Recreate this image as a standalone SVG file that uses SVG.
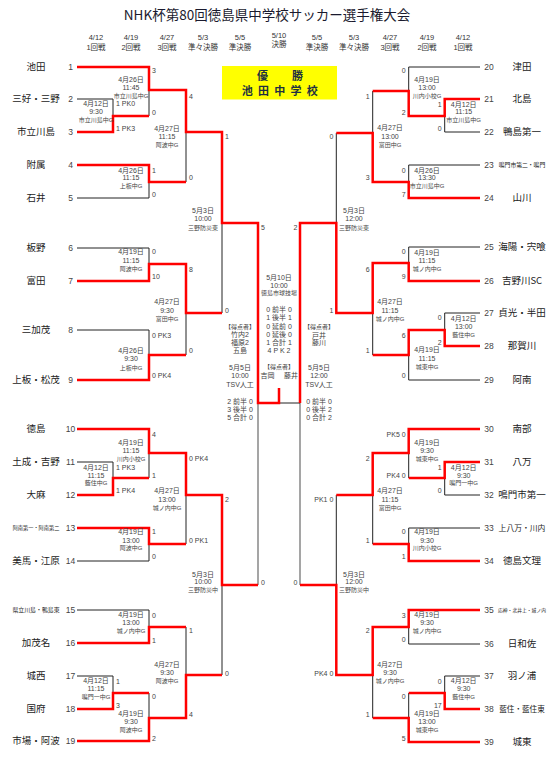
<svg xmlns="http://www.w3.org/2000/svg" width="557" height="761" viewBox="0 0 557 761">
<style>
.bg{fill:#fff}
.r{stroke:#ff0000;stroke-width:2.5;fill:none;stroke-linejoin:miter}
.b{stroke:#222;stroke-width:1;fill:none}
.g{stroke:#888;stroke-width:1.5;fill:none}
.nm{font-family:"Noto Sans CJK JP",sans-serif;font-size:9.5px;fill:#222;text-anchor:middle}
.no{font-family:"Liberation Sans",sans-serif;font-size:8.5px;fill:#444;text-anchor:middle}
.sc{font-family:"Liberation Sans","Noto Sans CJK JP",sans-serif;font-size:7px;fill:#444}
.sl{text-anchor:start}
.sr{text-anchor:end}
.lb text{font-family:"Liberation Sans","Noto Sans CJK JP",sans-serif;font-size:7px;fill:#444;text-anchor:middle}
.lb text.v{font-size:6px}
.hd text{font-family:"Liberation Sans","Noto Sans CJK JP",sans-serif;font-size:7.5px;fill:#333;text-anchor:middle}
.win{font-family:"Liberation Sans","Noto Sans CJK JP",sans-serif;font-size:11px;font-weight:bold;fill:#203040;text-anchor:middle}
</style>
<rect class="bg" x="0" y="0" width="557" height="761"/>

<g id="title">
<text x="267" y="20" style="font-family:'Noto Sans CJK JP',sans-serif;font-size:13.5px;fill:#1a1a2e;text-anchor:middle">NHK杯第80回徳島県中学校サッカー選手権大会</text>
</g>
<g id="header" class="hd">
<text x="96" y="40">4/12</text><text x="96" y="50">1回戦</text>
<text x="131" y="40">4/19</text><text x="131" y="50">2回戦</text>
<text x="167" y="40">4/27</text><text x="167" y="50">3回戦</text>
<text x="203" y="40">5/3</text><text x="203" y="50">準々決勝</text>
<text x="240" y="40">5/5</text><text x="240" y="50">準決勝</text>
<text x="279" y="38">5/10</text><text x="279" y="47">決勝</text>
<text x="317" y="40">5/5</text><text x="317" y="50">準決勝</text>
<text x="354" y="40">5/3</text><text x="354" y="50">準々決勝</text>
<text x="390" y="40">4/27</text><text x="390" y="50">3回戦</text>
<text x="427" y="40">4/19</text><text x="427" y="50">2回戦</text>
<text x="463" y="40">4/12</text><text x="463" y="50">1回戦</text>
</g>

<g id="champion">
<rect x="222" y="66" width="115" height="33.5" fill="#ffff00"/>
<text class="win" x="262.5 297.5" y="79.7">優勝</text>
<text class="win" x="247.3 263.5 279.8 296 312.3" y="95">池田中学校</text>
</g>

<g id="connectors">
<!-- left black -->
<path class="b" d="M77,99H113V116M77,198H149V182M149,116V90M186,132V182M77,248H149V264M77,330H149V355M186,313V355M222,223V313M77,462H113V478M149,453V478M77,561H149V544M186,495V544M77,610H149V627M77,676H113V693M149,693V718M186,627V675M222,585V675"/>
<path class="g" d="M258,403V585M300,403V585"/>
<!-- right black -->
<path class="b" d="M480,67H408.7V91M480,132H444.7V116M480,165H408.7V182M372.7,91V133M336.3,133V223M480,247H408.7V263M480,313H444.7V330M480,380H408.7V355M372.7,355V313M408.7,453V478M480,495H444.7V478M480,528H408.7V544M372.7,544V495M336.3,495V585M480,644H408.7V627M480,676H444.7V693M408.7,693V718M372.7,718V675"/>
<path class="b" d="M279,403H300"/>
<!-- left red -->
<path class="r" d="M77,132H113V116H149"/>
<path class="r" d="M77,67H149V90H186V132H222V223H258V403H279V388"/>
<path class="r" d="M77,165H149V182H186"/>
<path class="r" d="M77,281H149V264H186V313H222"/>
<path class="r" d="M77,380H149V355H186"/>
<path class="r" d="M77,495H113V478H149"/>
<path class="r" d="M77,429H149V453H186V495H222V585H258"/>
<path class="r" d="M77,528H149V544H186"/>
<path class="r" d="M77,643H149V627H186"/>
<path class="r" d="M77,709H113V693H149"/>
<path class="r" d="M77,741H149V718H186V675H222"/>
<!-- right red -->
<path class="r" d="M480,99H444.7V116H408.7V91H372.7"/>
<path class="r" d="M480,198H408.7V182H372.7V133H336.3"/>
<path class="r" d="M480,281H408.7V263H372.7V313H336.3V223H300V403"/>
<path class="r" d="M480,346H444.7V330H408.7V355H372.7"/>
<path class="r" d="M480,429H408.7V453H372.7V495H336.3"/>
<path class="r" d="M480,462H444.7V478H408.7"/>
<path class="r" d="M480,561H408.7V544H372.7"/>
<path class="r" d="M480,610H408.7V627H372.7V675H336.3V585H300"/>
<path class="r" d="M480,709H444.7V693H408.7"/>
<path class="r" d="M480,742H408.7V718H372.7"/>
</g>

<g id="teams-left">
<g id="t1"><text class="nm" x="36" y="70.4">池田</text><text class="no" x="70.5" y="70">1</text></g>
<g id="t2"><text class="nm" x="36" y="102.4">三好・三野</text><text class="no" x="70.5" y="102">2</text></g>
<g id="t3"><text class="nm" x="36" y="135.4">市立川島</text><text class="no" x="70.5" y="135">3</text></g>
<g id="t4"><text class="nm" x="36" y="168.4">附属</text><text class="no" x="70.5" y="168">4</text></g>
<g id="t5"><text class="nm" x="36" y="201.4">石井</text><text class="no" x="70.5" y="201">5</text></g>
<g id="t6"><text class="nm" x="36" y="251.4">板野</text><text class="no" x="70.5" y="251">6</text></g>
<g id="t7"><text class="nm" x="36" y="284.4">富田</text><text class="no" x="70.5" y="284">7</text></g>
<g id="t8"><text class="nm" x="36" y="333.4">三加茂</text><text class="no" x="70.5" y="333">8</text></g>
<g id="t9"><text class="nm" x="36" y="383.4">上板・松茂</text><text class="no" x="70.5" y="383">9</text></g>
<g id="t10"><text class="nm" x="36" y="432.4">徳島</text><text class="no" x="70.5" y="432">10</text></g>
<g id="t11"><text class="nm" x="36" y="465.4">土成・吉野</text><text class="no" x="70.5" y="465">11</text></g>
<g id="t12"><text class="nm" x="36" y="498.4">大麻</text><text class="no" x="70.5" y="498">12</text></g>
<g id="t13"><text class="nm" x="36" y="530" style="font-size:5.2px">阿南第一・阿南第二</text><text class="no" x="70.5" y="531">13</text></g>
<g id="t14"><text class="nm" x="36" y="564.4">美馬・江原</text><text class="no" x="70.5" y="564">14</text></g>
<g id="t15"><text class="nm" x="36" y="612.1" style="font-size:5.9px">県立川島・鴨島東</text><text class="no" x="70.5" y="613">15</text></g>
<g id="t16"><text class="nm" x="36" y="646.4">加茂名</text><text class="no" x="70.5" y="646">16</text></g>
<g id="t17"><text class="nm" x="36" y="679.4">城西</text><text class="no" x="70.5" y="679">17</text></g>
<g id="t18"><text class="nm" x="36" y="712.4">国府</text><text class="no" x="70.5" y="712">18</text></g>
<g id="t19"><text class="nm" x="36" y="744.4">市場・阿波</text><text class="no" x="70.5" y="744">19</text></g>
</g>

<g id="teams-right">
<g id="t20"><text class="nm" x="522" y="70.4">津田</text><text class="no" x="489" y="70">20</text></g>
<g id="t21"><text class="nm" x="522" y="102.4">北島</text><text class="no" x="489" y="102">21</text></g>
<g id="t22"><text class="nm" x="522" y="135.4">鴨島第一</text><text class="no" x="489" y="135">22</text></g>
<g id="t23"><text class="nm" x="522" y="167.1" style="font-size:5.8px">鳴門市第二・鳴門</text><text class="no" x="489" y="168">23</text></g>
<g id="t24"><text class="nm" x="522" y="201.4">山川</text><text class="no" x="489" y="201">24</text></g>
<g id="t25"><text class="nm" x="522" y="250.4">海陽・宍喰</text><text class="no" x="489" y="250">25</text></g>
<g id="t26"><text class="nm" x="522" y="284.4">吉野川SC</text><text class="no" x="489" y="284">26</text></g>
<g id="t27"><text class="nm" x="522" y="316.4">貞光・半田</text><text class="no" x="489" y="316">27</text></g>
<g id="t28"><text class="nm" x="522" y="349.4">那賀川</text><text class="no" x="489" y="349">28</text></g>
<g id="t29"><text class="nm" x="522" y="383.4">阿南</text><text class="no" x="489" y="383">29</text></g>
<g id="t30"><text class="nm" x="522" y="432.4">南部</text><text class="no" x="489" y="432">30</text></g>
<g id="t31"><text class="nm" x="522" y="465.4">八万</text><text class="no" x="489" y="465">31</text></g>
<g id="t32"><text class="nm" x="522" y="498.4">鳴門市第一</text><text class="no" x="489" y="498">32</text></g>
<g id="t33"><text class="nm" x="522" y="530.8" style="font-size:7.8px">上八万・川内</text><text class="no" x="489" y="531">33</text></g>
<g id="t34"><text class="nm" x="522" y="564.4">徳島文理</text><text class="no" x="489" y="564">34</text></g>
<g id="t35"><text class="nm" x="522" y="611.8" style="font-size:4.8px">応神・北井上・城ノ内</text><text class="no" x="489" y="613">35</text></g>
<g id="t36"><text class="nm" x="522" y="647.4">日和佐</text><text class="no" x="489" y="647">36</text></g>
<g id="t37"><text class="nm" x="522" y="679.4">羽ノ浦</text><text class="no" x="489" y="679">37</text></g>
<g id="t38"><text class="nm" x="522" y="711.8" style="font-size:7.6px">藍住・藍住東</text><text class="no" x="489" y="712">38</text></g>
<g id="t39"><text class="nm" x="522" y="745.4">城東</text><text class="no" x="489" y="745">39</text></g>
</g>

<g id="scores-left" class="sc sl">
<text x="116" y="105.9">1 PK0</text><text x="116" y="130.9">1 PK3</text>
<text x="152" y="72.6">3</text><text x="152" y="114.6">0</text>
<text x="152" y="172.6">1</text><text x="152" y="196.6">0</text>
<text x="189" y="98.6">4</text><text x="189" y="180.3">0</text>
<text x="225" y="139.3">1</text><text x="225" y="312.6">0</text>
<text x="261" y="229.9">5</text><text x="261" y="584.6">0</text>
<text x="152" y="254.3">0</text><text x="152" y="279.3">10</text>
<text x="152" y="337.6">0 PK3</text><text x="152" y="378.3">0 PK4</text>
<text x="189" y="271.6">8</text><text x="189" y="352.6">0</text>
<text x="152" y="436.6">4</text><text x="152" y="477.6">1</text>
<text x="116" y="469.9">1 PK3</text><text x="116" y="493.3">1 PK4</text>
<text x="189" y="460.9">0 PK4</text><text x="189" y="543.3">0 PK1</text>
<text x="225" y="501.6">2</text>
<text x="152" y="534.3">1</text><text x="152" y="558.6">0</text>
<text x="152" y="617.6">0</text><text x="152" y="642.6">1</text>
<text x="116" y="683.6">1</text><text x="116" y="707.6">3</text>
<text x="152" y="699.3">0</text><text x="152" y="740.9">2</text>
<text x="189" y="633.3">1</text><text x="189" y="716.6">4</text>
<text x="225" y="675.9">0</text>
</g>

<g id="scores-right" class="sc sr">
<text x="405.7" y="72.6">0</text><text x="405.7" y="114.6">2</text>
<text x="441.7" y="106.6">1</text><text x="441.7" y="130.6">0</text>
<text x="405.7" y="172.6">0</text><text x="405.7" y="196.6">7</text>
<text x="369.7" y="99.3">1</text><text x="369.7" y="180.3">3</text>
<text x="333.3" y="138.6">0</text><text x="297.5" y="229.6">2</text>
<text x="405.7" y="254.3">0</text><text x="405.7" y="279.3">9</text>
<text x="441.7" y="320.3">0</text><text x="441.7" y="344.9">2</text>
<text x="405.7" y="337.6">6</text><text x="405.7" y="378.3">0</text>
<text x="369.7" y="271.6">6</text><text x="369.7" y="353.3">1</text>
<text x="333.3" y="312.6">1</text>
<text x="405.7" y="436.6">PK5 0</text><text x="405.7" y="477.6">PK4 0</text>
<text x="441.7" y="469.9">1</text><text x="441.7" y="493.3">0</text>
<text x="405.7" y="534.3">0</text><text x="405.7" y="559.3">1</text>
<text x="369.7" y="460.9">2</text><text x="369.7" y="543.3">1</text>
<text x="333.3" y="501.6">PK1 0</text><text x="297.5" y="584.6">0</text>
<text x="405.7" y="617.6">3</text><text x="405.7" y="641.9">0</text>
<text x="441.7" y="683.6">0</text><text x="441.7" y="707.6">17</text>
<text x="405.7" y="699.3">0</text><text x="405.7" y="740.9">5</text>
<text x="369.7" y="633.3">2</text><text x="369.7" y="716.6">1</text>
<text x="333.3" y="675.9">PK4 0</text>
</g>

<g id="matches-left">
<g id="mL1a" class="lb"><text x="96" y="106.2">4月12日</text><text x="96" y="114.2">9:30</text><text class="v" x="96" y="121.5">市立川島中G</text></g>
<g id="mL2a" class="lb"><text x="131" y="81.5">4月26日</text><text x="131" y="89.8">11:45</text><text class="v" x="131" y="97.5">市立川島中G</text></g>
<g id="mL2b" class="lb"><text x="131" y="172.5">4月26日</text><text x="131" y="180.2">11:15</text><text class="v" x="131" y="187.9">上板中G</text></g>
<g id="mL3a" class="lb"><text x="167" y="130.8">4月27日</text><text x="167" y="139.2">11:15</text><text class="v" x="167" y="147.2">阿波中G</text></g>
<g id="mLqf1" class="lb"><text x="203" y="213.2">5月3日</text><text x="203" y="220.8">10:00</text><text class="v" x="203" y="229.5">三野防災東</text></g>
<g id="mL2c" class="lb"><text x="131" y="254.2">4月19日</text><text x="131" y="262.5">11:15</text><text class="v" x="131" y="271.2">阿波中G</text></g>
<g id="mL2d" class="lb"><text x="131" y="353.2">4月26日</text><text x="131" y="360.8">9:30</text><text class="v" x="131" y="369.5">上板中G</text></g>
<g id="mL3b" class="lb"><text x="167" y="304.2">4月27日</text><text x="167" y="312.5">9:30</text><text class="v" x="167" y="320.5">富田中G</text></g>
<g id="mL1b" class="lb"><text x="96" y="469.8">4月12日</text><text x="96" y="477.5">11:15</text><text class="v" x="96" y="484.9">藍住中G</text></g>
<g id="mL2e" class="lb"><text x="131" y="444.8">4月19日</text><text x="131" y="452.5">11:15</text><text class="v" x="131" y="460.5">川内小校G</text></g>
<g id="mL2f" class="lb"><text x="131" y="534.2">4月19日</text><text x="131" y="542.5">13:00</text><text class="v" x="131" y="549.9">阿波中G</text></g>
<g id="mL3c" class="lb"><text x="167" y="493.2">4月27日</text><text x="167" y="501.5">13:00</text><text class="v" x="167" y="509.9">城ノ内中G</text></g>
<g id="mLqf2" class="lb"><text x="203" y="576.5">5月3日</text><text x="203" y="584.2">10:00</text><text class="v" x="203" y="591.9">三野防災中</text></g>
<g id="mL2g" class="lb"><text x="131" y="616.8">4月19日</text><text x="131" y="625.2">13:00</text><text class="v" x="131" y="633.2">城ノ内中G</text></g>
<g id="mL1c" class="lb"><text x="96" y="683.2">4月12日</text><text x="96" y="690.8">11:15</text><text class="v" x="96" y="698.9">鳴門一中G</text></g>
<g id="mL2h" class="lb"><text x="131" y="715.8">4月19日</text><text x="131" y="724.2">9:30</text><text class="v" x="131" y="732.2">阿波中G</text></g>
<g id="mL3d" class="lb"><text x="167" y="666.8">4月27日</text><text x="167" y="675.2">9:30</text><text class="v" x="167" y="683.2">阿波中G</text></g>
<g id="mLsf" class="lb">
<text class="v" x="240" y="329">【得点者】</text><text x="240" y="337">竹内2</text><text x="240" y="345.3">福原2</text><text x="240" y="353.3">五島</text>
<text x="240" y="370.2">5月5日</text><text x="240" y="378.2">10:00</text><text x="240" y="386.5">TSV人工</text>
<text x="240" y="403.5">2 前半 0</text><text x="240" y="411.5">3 後半 0</text><text x="240" y="419.5">5 合計 0</text>
</g>
</g>

<g id="matches-right">
<g id="mR2a" class="lb"><text x="427" y="81.5">4月19日</text><text x="427" y="89.8">13:00</text><text class="v" x="427" y="97.9">川内小校G</text></g>
<g id="mR1a" class="lb"><text x="463.7" y="106.8">4月12日</text><text x="463.7" y="114.2">11:15</text><text class="v" x="463.7" y="122.2">市立川島中G</text></g>
<g id="mR2b" class="lb"><text x="427" y="172.5">4月26日</text><text x="427" y="180.2">13:30</text><text class="v" x="427" y="187.9">市立川島中G</text></g>
<g id="mR3a" class="lb"><text x="390" y="130.2">4月27日</text><text x="390" y="139.2">13:00</text><text class="v" x="390" y="147.2">富田中G</text></g>
<g id="mRqf1" class="lb"><text x="354" y="213.2">5月3日</text><text x="354" y="220.8">12:00</text><text class="v" x="354" y="229.5">三野防災東</text></g>
<g id="mR2c" class="lb"><text x="427" y="254.8">4月19日</text><text x="427" y="262.5">11:15</text><text class="v" x="427" y="270.5">城ノ内中G</text></g>
<g id="mR1b" class="lb"><text x="463.7" y="320.8">4月12日</text><text x="463.7" y="329.2">13:00</text><text class="v" x="463.7" y="337.2">藍住中G</text></g>
<g id="mR2d" class="lb"><text x="427" y="351.8">4月19日</text><text x="427" y="360.8">11:15</text><text class="v" x="427" y="368.9">城東中G</text></g>
<g id="mR3b" class="lb"><text x="390" y="304.2">4月27日</text><text x="390" y="312.5">11:15</text><text class="v" x="390" y="320.5">城ノ内中G</text></g>
<g id="mR2e" class="lb"><text x="427" y="444.8">4月19日</text><text x="427" y="452.5">9:30</text><text class="v" x="427" y="460.5">城東中G</text></g>
<g id="mR1c" class="lb"><text x="463.7" y="469.8">4月12日</text><text x="463.7" y="477.5">9:30</text><text class="v" x="463.7" y="484.9">鳴門一中G</text></g>
<g id="mR2f" class="lb"><text x="427" y="534.2">4月19日</text><text x="427" y="542.5">9:30</text><text class="v" x="427" y="549.9">川内小校G</text></g>
<g id="mR3c" class="lb"><text x="390" y="493.2">4月27日</text><text x="390" y="501.5">11:15</text><text class="v" x="390" y="509.9">富田中G</text></g>
<g id="mRqf2" class="lb"><text x="354" y="576.5">5月3日</text><text x="354" y="584.2">12:00</text><text class="v" x="354" y="591.9">三野防災中</text></g>
<g id="mR2g" class="lb"><text x="427" y="616.8">4月19日</text><text x="427" y="625.2">9:30</text><text class="v" x="427" y="633.2">城ノ内中G</text></g>
<g id="mR1d" class="lb"><text x="463.7" y="683.2">4月12日</text><text x="463.7" y="690.8">9:30</text><text class="v" x="463.7" y="698.9">藍住中G</text></g>
<g id="mR2h" class="lb"><text x="427" y="715.8">4月19日</text><text x="427" y="724.2">13:00</text><text class="v" x="427" y="732.2">城東中G</text></g>
<g id="mR3d" class="lb"><text x="390" y="666.8">4月27日</text><text x="390" y="675.2">9:30</text><text class="v" x="390" y="683.2">城ノ内中G</text></g>
<g id="mRsf" class="lb">
<text class="v" x="319" y="329">【得点者】</text><text x="319" y="337.5">戸井</text><text x="319" y="345.3">藤川</text>
<text x="319" y="370.2">5月5日</text><text x="319" y="378.2">12:00</text><text x="319" y="386.5">TSV人工</text>
<text x="319" y="403.5">0 前半 0</text><text x="319" y="411.5">0 後半 2</text><text x="319" y="419.5">0 合計 2</text>
</g>
</g>

<g id="final" class="lb">
<text x="279" y="279.8">5月10日</text><text x="279" y="287.5">10:00</text><text class="v" x="279" y="295">徳島市球技場</text>
<text x="279" y="311.8">0 前半 0</text><text x="279" y="320.2">1 後半 1</text><text x="279" y="328.5">0 延前 0</text><text x="279" y="336.5">0 延後 0</text><text x="279" y="344.5">1 合計 1</text><text x="279" y="353.2">4 P K 2</text>
<text class="v" x="279" y="369.2">【得点者】</text><text x="267.5" y="377.5">吉岡</text><text x="291" y="377.5">藤井</text>
</g>
</svg>
